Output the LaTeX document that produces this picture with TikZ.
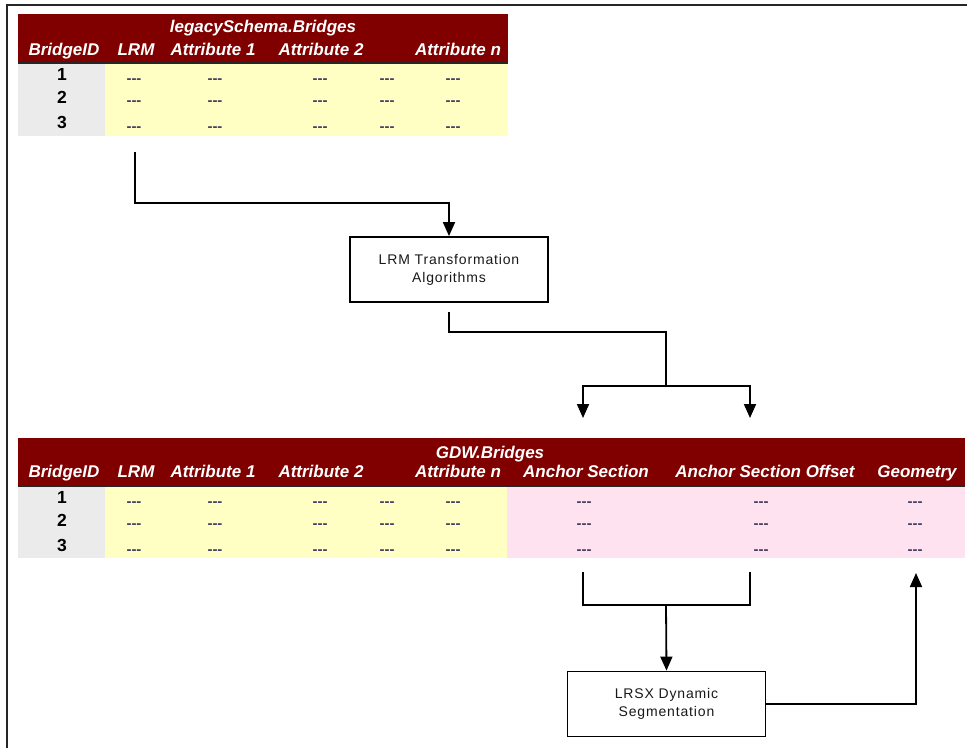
\documentclass[tikz,border=0pt]{standalone}
\usepackage{fontspec}
\setmainfont{Liberation Sans}
\newfontfamily\boxfont{Liberation Sans}[LetterSpace=6]
\usetikzlibrary{arrows.meta,positioning}

\definecolor{hdrred}{RGB}{128,0,0}
\definecolor{cellyellow}{RGB}{255,255,196}
\definecolor{cellpink}{RGB}{255,226,240}
\definecolor{cellgray}{RGB}{235,235,235}
\definecolor{dashgray}{RGB}{70,65,100}
\newcommand\emptycell{-{}-{}-}

\begin{document}
\begin{tikzpicture}[x=1pt, y=-1pt,
					hdr/.style={text=white, font=\fontsize{17}{18}\selectfont\bfseries\itshape, inner sep=0pt, anchor=base},
					rownum/.style={font=\fontsize{17.5}{18}\selectfont\bfseries, inner sep=0pt},
					cell/.style={text=dashgray, font=\fontsize{15}{15}\selectfont\bfseries, inner sep=0pt},
					procbox/.style={draw, line width=1.8pt, minimum width=198pt, minimum height=65pt, align=center, text=black!90, font=\boxfont\fontsize{14}{18}\selectfont},
					link/.style={line width=1.8pt},
					arr/.style={link, -{Triangle[width=12pt,length=14pt]}}]
	\useasboundingbox (0,0) rectangle (967,748);
	\draw[line width=2.5pt, black!85] (7,748) -- (7,5) -- (967,5);

	% legacy table
	\fill[hdrred] (18,14) rectangle (508,62);
	\draw[line width=2pt, black!85] (18,63) -- (508,63);
	\fill[cellgray] (18,64) rectangle (105,136);
	\fill[cellyellow] (105,64) rectangle (508,136);
	\node[hdr] (legacytitle) at (263,32) {legacySchema.Bridges};
	\foreach \x/\t [count=\i] in {64/BridgeID, 136/LRM, 213/Attribute 1, 321/Attribute 2, 458/Attribute n}
		\node[hdr] (legacycol\i) at (\x,55) {\t};
	\foreach \y [count=\r] in {74.5,97.5,122}
		\node[rownum] (legacyid\r) at (62,\y) {\r};
	\foreach \y [count=\r] in {81,103,129}
		\foreach \x [count=\c] in {134,215,320,387,453}
			\node[cell] (legacy\r-\c) at (\x,\y) {\emptycell};

	% gdw table
	\fill[hdrred] (18,438) rectangle (965,485);
	\draw[line width=2pt, black!85] (18,486) -- (965,486);
	\fill[cellgray] (18,487) rectangle (105,558);
	\fill[cellyellow] (105,487) rectangle (507,558);
	\fill[cellpink] (507,487) rectangle (965,558);
	\node[hdr] (gdwtitle) at (490,458) {GDW.Bridges};
	\foreach \x/\t [count=\i] in {64/BridgeID, 136/LRM, 213/Attribute 1, 321/Attribute 2, 458/Attribute n, 586/Anchor Section, 765/Anchor Section Offset, 917/Geometry}
		\node[hdr] (gdwcol\i) at (\x,477) {\t};
	\foreach \y [count=\r] in {497.5,520.5,545}
		\node[rownum] (gdwid\r) at (62,\y) {\r};
	\foreach \y [count=\r] in {504,526,552}
		\foreach \x [count=\c] in {134,215,320,387,453,584,761,915}
			\node[cell] (gdw\r-\c) at (\x,\y) {\emptycell};

	% processes
	\node[procbox] (lrmbox) at (449,269.5) {LRM Transformation\\Algorithms};
	\node[procbox] (lrsxbox) at (666.5,704) {LRSX Dynamic\\Segmentation};

	\coordinate (lrmout) at (135,152);
	\coordinate (split) at (666,386);
	\coordinate (asin) at (583,418);
	\coordinate (asoin) at (750,418);
	\coordinate (asout) at (583,572);
	\coordinate (asoout) at (750,572);
	\coordinate (merge) at (666,605);
	\coordinate (geoin) at (916,573);

	\draw[arr] (lrmout) -- ++(0,51) -| (lrmbox.north);
	\draw[link, shorten <=9pt] (lrmbox.south) -- ++(0,29) -| (split);
	\draw[arr] (split) -| (asin);
	\draw[arr] (split) -| (asoin);
	\draw[link] (asout) -- ++(0,33) -| (asoout);
	\draw[arr] (merge) -- (lrsxbox.north);
	\draw[arr] (lrsxbox.east) -| (geoin);
\end{tikzpicture}
\end{document}
